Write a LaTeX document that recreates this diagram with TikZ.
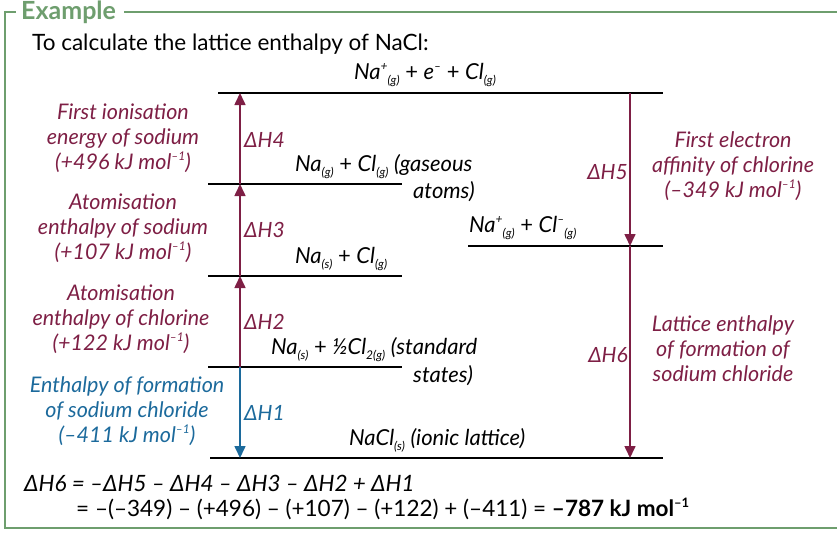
\documentclass[tikz,border=0pt]{standalone}
\usepackage{fontspec}
\setmainfont{Lato}
\usetikzlibrary{arrows.meta}
\definecolor{maroon}{HTML}{7E1F45}
\definecolor{formblue}{HTML}{1C6A9C}
\definecolor{framegreen}{HTML}{6E9E6E}
\newcommand{\lowidx}[1]{\raisebox{-0.45ex}{\fontsize{12}{12}\selectfont\itshape #1}}
\newcommand{\highidx}[1]{\raisebox{0.8ex}{\fontsize{12}{12}\selectfont\itshape #1}}
\newcommand{\chem}[2]{\textit{#1}\lowidx{(#2)}}
\begin{document}
\begin{tikzpicture}[x=1pt, y=-1pt,
	level/.style={line width=2.8pt, black},
	upstep/.style={-{Triangle[length=12pt,width=11pt]}, line width=1.6pt, maroon},
	downstep/.style={-{Triangle[length=12pt,width=11pt]}, line width=1.6pt, #1},
	sidelabel/.style={font=\fontsize{21.5}{25}\selectfont\itshape, align=center, text=maroon},
	dhlabel/.style={font=\fontsize{21}{24}\selectfont\itshape, anchor=west, inner sep=1pt},
	eqtext/.style={font=\fontsize{22.5}{26}\selectfont, anchor=west, inner sep=0pt},
	chemtext/.style={font=\fontsize{22}{24}\selectfont, inner sep=1pt}
]
\useasboundingbox (0,0) rectangle (837,543);
% frame
\draw[framegreen, line width=2.2pt] (124,12) -- (837,12);
\draw[framegreen, line width=2.2pt] (5,12) -- (16,12);
\draw[framegreen, line width=2.2pt] (5,11) -- (5,528) -- (837,528);
\node[font=\fontsize{25}{28}\selectfont\bfseries, text=framegreen, anchor=west, inner sep=1pt] (title) at (20,12) {Example};
\node[eqtext] (intro) at (32,44) {To calculate the lattice enthalpy of NaCl:};

% energy levels
\coordinate (topL) at (218,93);   \coordinate (topR) at (663,93);
\coordinate (gasL) at (208,184);  \coordinate (gasR) at (402,184);
\coordinate (ionL) at (468,246);  \coordinate (ionR) at (663,246);
\coordinate (atmL) at (208,276);  \coordinate (atmR) at (402,276);
\coordinate (stdL) at (208,367);  \coordinate (stdR) at (402,367);
\coordinate (latL) at (210,458);  \coordinate (latR) at (663,458);
\foreach \a/\b in {topL/topR, gasL/gasR, ionL/ionR, atmL/atmR, stdL/stdR, latL/latR}
	\draw[level] (\a) -- (\b);

% arrow ends
\coordinate (a1) at (240,367); \coordinate (a2) at (240,276);
\coordinate (a3) at (240,184); \coordinate (a4) at (240,93);
\coordinate (a0) at (240,458);
\coordinate (b0) at (630,93); \coordinate (b1) at (630,246); \coordinate (b2) at (630,458);
\draw[upstep] (a1) -- (a2);
\draw[upstep] (a2) -- (a3);
\draw[upstep] (a3) -- (a4);
\draw[downstep=formblue] (a1) -- (a0);
\draw[downstep=maroon] (b0) -- (b1);
\draw[downstep=maroon] (b1) -- (b2);

% delta H labels
\node[dhlabel, text=maroon] (h4) at (243,140) {ΔH4};
\node[dhlabel, text=maroon] (h3) at (243,230) {ΔH3};
\node[dhlabel, text=maroon] (h2) at (243,322) {ΔH2};
\node[dhlabel, text=formblue] (h1) at (243,413) {ΔH1};
\node[dhlabel, anchor=east, text=maroon] (h5) at (629,172) {ΔH5};
\node[dhlabel, anchor=east, text=maroon] (h6) at (629,355) {ΔH6};

% species
\node[chemtext, anchor=south] (sTop) at (425,88) {\textit{Na}\highidx{+}\lowidx{(g)} + \textit{e}\highidx{–} + \chem{Cl}{g}};
\node[chemtext, anchor=south west] (sGas) at (294,180) {\chem{Na}{g} + \chem{Cl}{g} \textit{(gaseous}};
\node[chemtext, anchor=north west] (sGas2) at (412,180) {\textit{atoms)}};
\node[chemtext, anchor=south west] (sIon) at (468,241) {\textit{Na}\highidx{+}\lowidx{(g)} + \textit{Cl}\highidx{–}\lowidx{(g)}};
\node[chemtext, anchor=south west] (sAtm) at (294,272) {\chem{Na}{s} + \chem{Cl}{g}};
\node[chemtext, anchor=south west] (sStd) at (270,363) {\chem{Na}{s} + \textit{½Cl}\lowidx{2(g)} \textit{(standard}};
\node[chemtext, anchor=north west] (sStd2) at (412,364) {\textit{states)}};
\node[chemtext, anchor=south west] (sLat) at (348,453) {\chem{NaCl}{s} \textit{(ionic lattice)}};

% side descriptions
\node[sidelabel] (d4) at (123,138) {First ionisation\\energy of sodium\\(+496 kJ mol\highidx{–1})};
\node[sidelabel] (d3) at (123,228) {Atomisation\\enthalpy of sodium\\(+107 kJ mol\highidx{–1})};
\node[sidelabel] (d2) at (121,319) {Atomisation\\enthalpy of chlorine\\(+122 kJ mol\highidx{–1})};
\node[sidelabel, text=formblue] (d1) at (127,411) {Enthalpy of formation\\of sodium chloride\\(–411 kJ mol\highidx{–1})};
\node[sidelabel] (d5) at (733,166) {First electron\\affinity of chlorine\\(–349 kJ mol\highidx{–1})};
\node[sidelabel] (d6) at (723,349) {Lattice enthalpy\\of formation of\\sodium chloride};

% calculation
\node[eqtext, font=\fontsize{22.5}{26}\selectfont\itshape] (eq1) at (24,483) {ΔH6 = –ΔH5 – ΔH4 – ΔH3 – ΔH2 + ΔH1};
\node[eqtext] (eq2) at (76,509) {= –(–349) – (+496) – (+107) – (+122) + (–411) = \textbf{–787 kJ mol\raisebox{0.8ex}{\fontsize{13}{13}\selectfont –1}}};
\end{tikzpicture}
\end{document}
